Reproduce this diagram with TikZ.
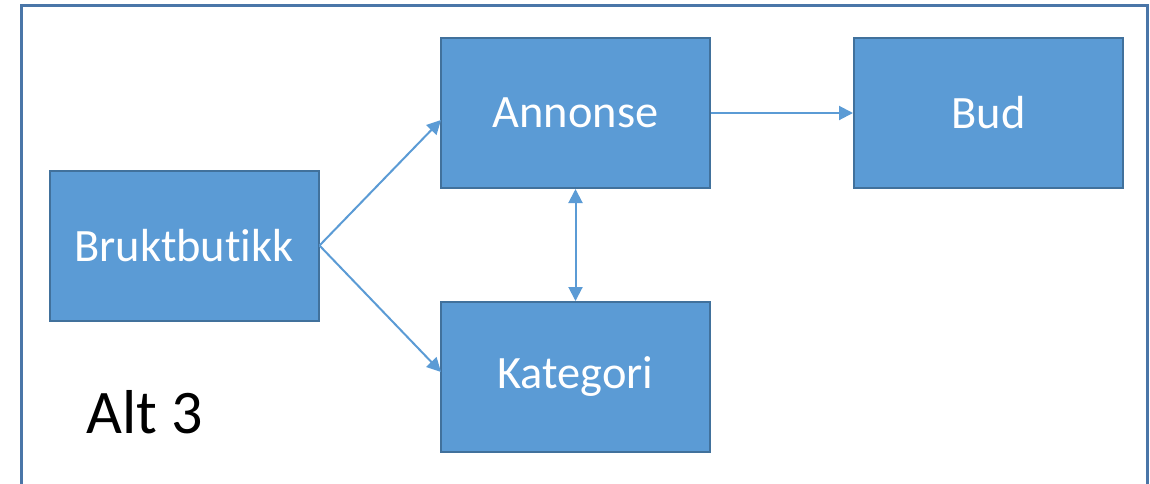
\documentclass[tikz,border=0pt]{standalone}
\usepackage{fontspec}
\setmainfont[Ligatures=NoCommon]{Carlito}
\usetikzlibrary{arrows.meta}
\definecolor{boxfill}{HTML}{5B9BD5}
\definecolor{boxline}{HTML}{41719C}
\definecolor{frameline}{HTML}{4A76A8}
\begin{document}
\begin{tikzpicture}[x=0.5pt,y=-0.5pt,
  entity/.style={draw=boxline,line width=1pt,fill=boxfill,text=white,
    minimum width=134.5pt,minimum height=75pt,inner sep=0pt,font=\fontsize{23.2}{28}\selectfont},
  link/.style={draw=boxfill,line width=1pt,-{Triangle[length=7pt,width=7pt]}},
  biLink/.style={draw=boxfill,line width=1pt,{Triangle[length=7pt,width=7pt]}-{Triangle[length=7pt,width=7pt]}}]
\useasboundingbox (0,0) rectangle (1150,483);
\draw[frameline,line width=1.5pt] (21,500) -- (21,5) -- (1147,5) -- (1147,500);
\node[entity] (brukt) at (184,245.5) {Bruktbutikk};
\node[entity] (annonse) at (575.5,113) {Annonse};
\node[entity] (bud) at (988.5,113) {Bud};
\node[entity] (kategori) at (575.5,377) {Kategori};
\node[anchor=base west,inner sep=0pt,font=\fontsize{31}{36}\selectfont] (alt) at (86,433) {Alt 3};
\coordinate (a1) at (441,120);
\coordinate (k1) at (441,372);
\draw[link] (brukt.east) -- (a1);
\draw[link] (brukt.east) -- (k1);
\draw[link] (annonse.east) -- (bud.west);
\draw[biLink] (annonse.south) -- (kategori.north);
\end{tikzpicture}
\end{document}
